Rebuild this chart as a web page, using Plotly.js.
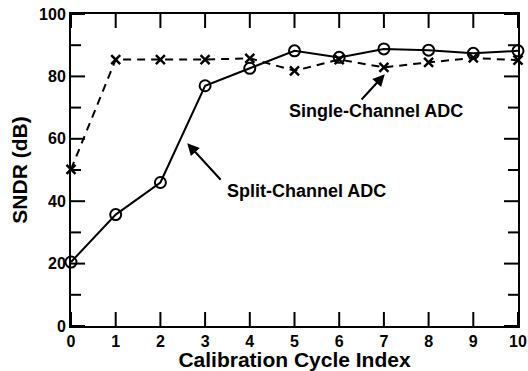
<!DOCTYPE html>
<html>
<head>
<meta charset="utf-8">
<script src="https://cdn.plot.ly/plotly-3.0.1.min.js"></script>
<style>html,body{margin:0;padding:0;background:#fff;}#chart{width:528px;height:371px;}</style>
</head>
<body>
<div id="chart"></div>
<script>
const cycles = [0, 1, 2, 3, 4, 5, 6, 7, 8, 9, 10];
const splitChannel = [20.5, 35.7, 46.0, 77.0, 82.6, 88.2, 86.1, 88.8, 88.4, 87.4, 88.2];
const singleChannel = [50.2, 85.4, 85.4, 85.4, 85.8, 81.8, 85.4, 82.9, 84.5, 85.9, 85.2];
const xTickVals = [0, 1, 2, 3, 4, 5, 6, 7, 8, 9, 10];
const yMajorTicks = [0, 20, 40, 60, 80, 100];
const yMinorTicks = [10, 30, 50, 70, 90];
const xRange = [0, 10];
const yRange = [0, 100];

const FONT = 'Liberation Sans, Arial, Helvetica, sans-serif';
const W = 528, H = 371;
const MARGIN = {l: 71, r: 10, t: 14, b: 45};
const MAJOR = 14, MINOR = 10; // tick lengths in pixels

// convert pixel tick lengths to axis units so the ticks can be drawn as a line trace
const xPerPx = (xRange[1] - xRange[0]) / (W - MARGIN.l - MARGIN.r);
const yPerPx = (yRange[1] - yRange[0]) / (H - MARGIN.t - MARGIN.b);

const tx = [], ty = [];
xTickVals.forEach(v => {
  tx.push(v, v, null, v, v, null);
  ty.push(yRange[0], yRange[0] + MAJOR * yPerPx, null, yRange[1], yRange[1] - MAJOR * yPerPx, null);
});
function addYTick(v, len) {
  tx.push(xRange[0], xRange[0] + len * xPerPx, null, xRange[1], xRange[1] - len * xPerPx, null);
  ty.push(v, v, null, v, v, null);
}
yMajorTicks.forEach(v => addYTick(v, MAJOR));
yMinorTicks.forEach(v => addYTick(v, MINOR));

const traces = [
  {
    x: tx, y: ty, mode: 'lines', connectgaps: false, hoverinfo: 'skip', showlegend: false,
    line: {color: '#000', width: 2}, cliponaxis: true
  },
  {
    x: cycles, y: singleChannel, mode: 'lines+markers', name: 'Single-Channel ADC',
    line: {color: '#000', width: 2, dash: '8px,6px'},
    marker: {symbol: 'x-thin-open', size: 9, color: '#000', line: {color: '#000', width: 2.5}},
    cliponaxis: false
  },
  {
    x: cycles, y: splitChannel, mode: 'lines+markers', name: 'Split-Channel ADC',
    line: {color: '#000', width: 2},
    marker: {symbol: 'circle-open', size: 11, color: '#000', line: {color: '#000', width: 2}},
    cliponaxis: false
  }
];

const layout = {
  width: W, height: H,
  margin: MARGIN,
  paper_bgcolor: '#fff', plot_bgcolor: '#fff',
  showlegend: false,
  font: {family: FONT, color: '#000'},
  xaxis: {
    range: xRange, tickvals: xTickVals, ticktext: xTickVals.map(String), ticks: '',
    showline: true, linecolor: '#000', linewidth: 2, mirror: true,
    showgrid: false, zeroline: false,
    tickfont: {size: 16, family: FONT, weight: 'bold', color: '#000'},
    title: {text: 'Calibration Cycle Index', font: {size: 21, family: FONT, weight: 'bold', color: '#000'}, standoff: 0}
  },
  yaxis: {
    range: yRange, tickvals: yMajorTicks, ticktext: yMajorTicks.map(String), ticks: '',
    showline: true, linecolor: '#000', linewidth: 2, mirror: true,
    showgrid: false, zeroline: false,
    tickfont: {size: 16, family: FONT, weight: 'bold', color: '#000'},
    title: {text: 'SNDR (dB)', font: {size: 21, family: FONT, weight: 'bold', color: '#000'}, standoff: 6}
  },
  annotations: [
    {x: 6.82, y: 68.9, xref: 'x', yref: 'y', text: 'Single-Channel ADC', showarrow: false,
     font: {size: 18, family: FONT, weight: 'bold', color: '#000'}},
    {x: 7.02, y: 80.7, xref: 'x', yref: 'y', ax: 6.47, ay: 72.1, axref: 'x', ayref: 'y', text: '',
     showarrow: true, arrowhead: 2, arrowsize: 1.2, arrowwidth: 2, arrowcolor: '#000'},
    {x: 5.26, y: 43.2, xref: 'x', yref: 'y', text: 'Split-Channel ADC', showarrow: false,
     font: {size: 18, family: FONT, weight: 'bold', color: '#000'}},
    {x: 2.6, y: 58.6, xref: 'x', yref: 'y', ax: 3.38, ay: 46.4, axref: 'x', ayref: 'y', text: '',
     showarrow: true, arrowhead: 2, arrowsize: 1.2, arrowwidth: 2, arrowcolor: '#000'}
  ]
};

Plotly.newPlot('chart', traces, layout, {displayModeBar: false, staticPlot: true});
</script>
</body>
</html>
